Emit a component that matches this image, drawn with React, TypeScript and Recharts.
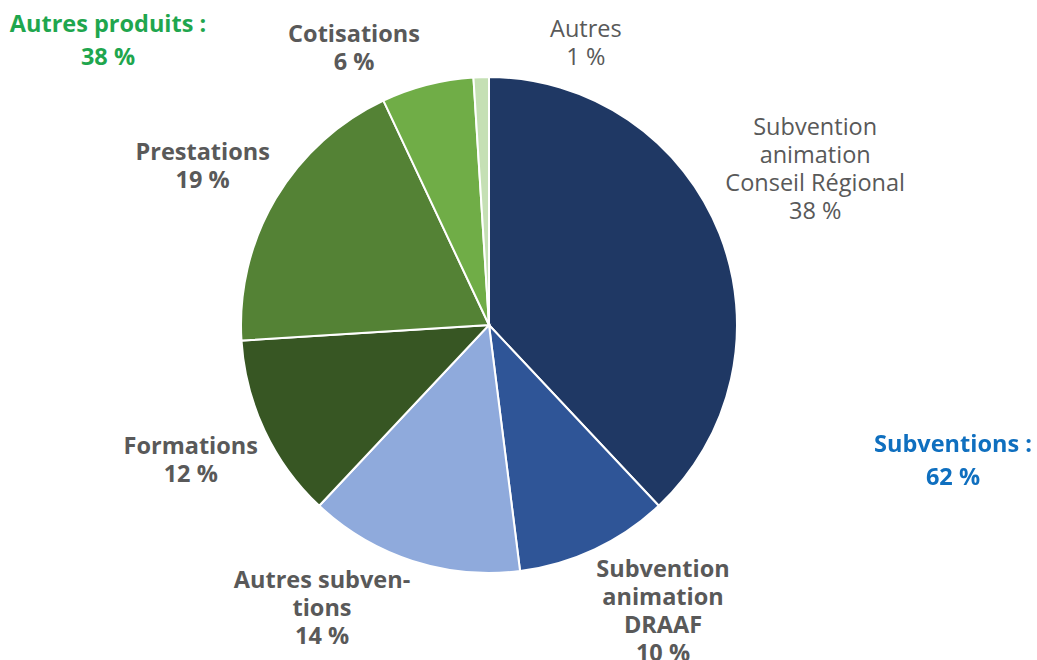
import { PieChart, Pie, Cell } from "recharts";

const categories = [
  "Subvention animation Conseil Régional",
  "Subvention animation DRAAF",
  "Autres subventions",
  "Formations",
  "Prestations",
  "Cotisations",
  "Autres",
];
const shares = [38, 10, 14, 12, 19, 6, 1];
const labelLines = [
  ["Subvention", "animation", "Conseil Régional"],
  ["Subvention", "animation", "DRAAF"],
  ["Autres subven-", "tions"],
  ["Formations"],
  ["Prestations"],
  ["Cotisations"],
  ["Autres"],
];

const colors = ["#1F3864", "#2F5597", "#8FAADC", "#375623", "#548235", "#70AD47", "#C5E0B4"];
const boldLabel = [false, true, true, true, true, true, false];
// label centre, polar around the pie centre (degrees, px)
const labelPolar = [
  { angle: 25.7, r: 362 },
  { angle: -58.6, r: 334 },
  { angle: -120.6, r: 328 },
  { angle: 204.2, r: 327 },
  { angle: 150.8, r: 328 },
  { angle: 115.9, r: 309 },
  { angle: 71.1, r: 299 },
];

const data = categories.map((name, i) => ({ name, value: shares[i] }));

const FONT = "'Open Sans', Lato, sans-serif";
const SIZE = 23.5;
const LINE = 28;

function renderLabel(props: any) {
  const { cx, cy, index, value } = props;
  const p = labelPolar[index];
  const rad = (p.angle * Math.PI) / 180;
  const x = cx + p.r * Math.cos(rad);
  const y = cy - p.r * Math.sin(rad);
  const lines = [...labelLines[index], `${value} %`];
  const top = y - ((lines.length - 1) * LINE) / 2;
  return (
    <text
      key={index}
      x={x}
      y={top}
      textAnchor="middle"
      dominantBaseline="central"
      fill="#595959"
      fontFamily={FONT}
      fontSize={SIZE}
      fontWeight={boldLabel[index] ? 700 : 400}
    >
      {lines.map((l, k) => (
        <tspan key={k} x={x} dy={k === 0 ? 0 : LINE}>
          {l}
        </tspan>
      ))}
    </text>
  );
}

export default function App() {
  return (
    <div style={{ position: "fixed", left: 0, top: 0, width: 1037, height: 660, background: "#fff" }}>
      <PieChart width={1037} height={660} margin={{ top: 0, right: 0, bottom: 0, left: 0 }}>
        <Pie
          data={data}
          dataKey="value"
          nameKey="name"
          cx={489}
          cy={325}
          outerRadius={248}
          startAngle={90}
          endAngle={-270}
          stroke="#ffffff"
          strokeWidth={2}
          label={renderLabel}
          labelLine={false}
          isAnimationActive={false}
        >
          {data.map((d, i) => (
            <Cell key={d.name} fill={colors[i]} />
          ))}
        </Pie>
      </PieChart>
      <div
        style={{
          position: "absolute",
          left: 0,
          top: 7,
          width: 216,
          textAlign: "center",
          color: "#1FA64E",
          fontFamily: FONT,
          fontWeight: 700,
          fontSize: SIZE,
          lineHeight: "33px",
        }}
      >
        Autres produits :<br />38 %
      </div>
      <div
        style={{
          position: "absolute",
          left: 860,
          top: 427,
          width: 186,
          textAlign: "center",
          color: "#0F6FBF",
          fontFamily: FONT,
          fontWeight: 700,
          fontSize: SIZE,
          lineHeight: "33px",
        }}
      >
        Subventions :<br />62 %
      </div>
    </div>
  );
}
